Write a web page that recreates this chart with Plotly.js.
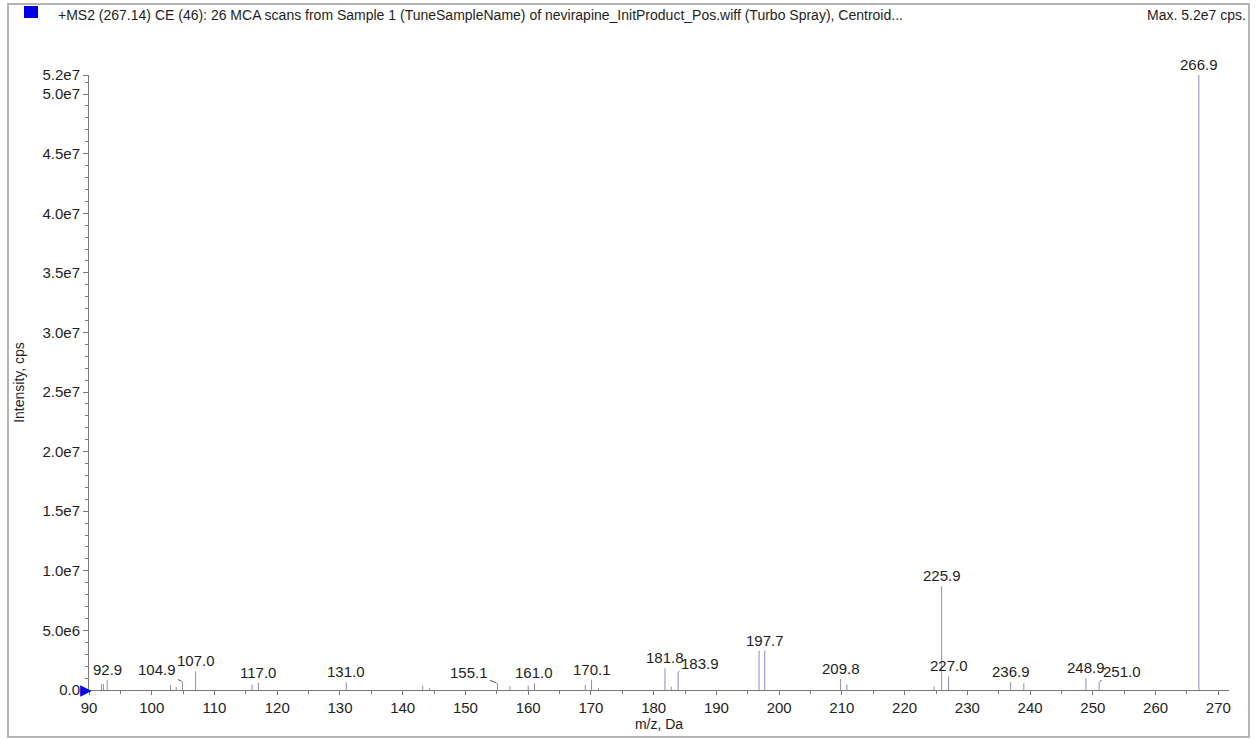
<!DOCTYPE html>
<html>
<head>
<meta charset="utf-8">
<script src="https://cdn.plot.ly/plotly-3.0.1.min.js"></script>
<style>
  html, body { margin: 0; padding: 0; background: #ffffff; }
  #wrap { position: relative; width: 1256px; height: 740px; }
  #frame { position: absolute; left: 7px; top: 3px; width: 1243px; height: 735px;
           box-sizing: border-box; border: 2px solid #b4b4b4; pointer-events: none; }
  #chart { position: absolute; left: 0; top: 0; width: 1256px; height: 740px; }
</style>
</head>
<body>
<div id="wrap">
  <div id="chart"></div>
  <div id="frame"></div>
</div>
<script>
// Centroided MS2 spectrum of m/z 267.14 (nevirapine product ions)
const mz = [92.0, 92.3, 92.9, 103.0, 103.9, 104.9, 107.0, 116.0, 117.0, 131.0,
            143.2, 144.3, 155.1, 157.1, 160.0, 161.0, 169.1, 170.1, 171.2,
            181.8, 182.8, 183.9, 196.8, 197.7, 209.8, 210.8, 224.7, 225.9,
            227.0, 236.9, 239.0, 248.9, 251.0, 266.9];
const intensity = [0.50e6, 0.50e6, 0.84e6, 0.42e6, 0.25e6, 0.70e6, 1.57e6, 0.45e6, 0.60e6, 0.63e6,
                   0.36e6, 0.17e6, 0.56e6, 0.31e6, 0.36e6, 0.56e6, 0.42e6, 0.87e6, 0.17e6,
                   1.82e6, 0.28e6, 1.54e6, 3.30e6, 3.30e6, 0.92e6, 0.45e6, 0.31e6, 8.70e6,
                   1.15e6, 0.65e6, 0.56e6, 0.98e6, 0.70e6, 5.16e7];

// peaks that carry an m/z label
const labelledMz = [92.9, 104.9, 107.0, 117.0, 131.0, 155.1, 161.0, 170.1, 181.8,
                    183.9, 197.7, 209.8, 225.9, 227.0, 236.9, 248.9, 251.0, 266.9];

const xTickStart = 90;
const xTickStep = 10;
const xRange = [90, 271.7];
const yMax = 5.16e7;
const yTickVals = [0, 5e6, 1e7, 1.5e7, 2e7, 2.5e7, 3e7, 3.5e7, 4e7, 4.5e7, 5e7, yMax];
const yTickText = ['0.0', '5.0e6', '1.0e7', '1.5e7', '2.0e7', '2.5e7', '3.0e7',
                   '3.5e7', '4.0e7', '4.5e7', '5.0e7', '5.2e7'];

const headerText = '+MS2 (267.14) CE (46): 26 MCA scans from Sample 1 (TuneSampleName) of nevirapine_InitProduct_Pos.wiff (Turbo Spray), Centroid...';
const maxText = 'Max. 5.2e7 cps.';

// Stick spectrum: one vertical segment per centroid, separated by gaps
const stickX = [], stickY = [];
mz.forEach((m, i) => {
  stickX.push(m, m, null);
  stickY.push(0, intensity[i], null);
});

const FONT = '"Liberation Sans", Arial, Helvetica, sans-serif';
const TEXT = '#1e1e1e';
const AXIS = '#7a7a7a';

// labels that sit beside their stick with a short leader line
const leader = {
  '104.9': { ax: -25, ay: -12 },
  '155.1': { ax: -28, ay: -11 },
  '183.9': { ax: 22, ay: -8 },
  '251.0': { ax: 23, ay: -10 }
};

const annotations = labelledMz.map(m => {
  const idx = mz.indexOf(m);
  const label = m.toFixed(1);
  const base = {
    x: m, y: intensity[idx], xref: 'x', yref: 'y', text: label,
    font: { family: FONT, size: 15, color: TEXT }
  };
  if (leader[label]) {
    return Object.assign(base, {
      showarrow: true, arrowhead: 0, arrowwidth: 1, arrowcolor: '#505050',
      ax: leader[label].ax, ay: leader[label].ay, standoff: 1
    });
  }
  return Object.assign(base, { showarrow: false, yanchor: 'bottom', yshift: 0 });
});

// baseline marker at the start of the m/z axis
annotations.push({
  x: xRange[0], y: 0, xref: 'x', yref: 'y', text: '\u25B6', showarrow: false,
  xanchor: 'right', yanchor: 'middle', xshift: 5,
  font: { family: 'DejaVu Sans', size: 15, color: '#0000e6' }
});

// maximum intensity note, top right
annotations.push({
  x: 1.0165, y: 1.0976, xref: 'paper', yref: 'paper', text: maxText,
  showarrow: false, xanchor: 'right', yanchor: 'middle',
  font: { family: FONT, size: 14, color: TEXT }
});

const layout = {
  width: 1256, height: 740,
  margin: { l: 89, r: 27, t: 75, b: 50 },
  paper_bgcolor: '#ffffff', plot_bgcolor: '#ffffff',
  showlegend: false,
  font: { family: FONT, size: 15, color: TEXT },
  title: {
    text: headerText, x: 58 / 1256, xref: 'container', xanchor: 'left',
    y: 1 - 15 / 740, yref: 'container', yanchor: 'middle',
    font: { family: FONT, size: 14, color: TEXT }
  },
  xaxis: {
    range: xRange, tick0: xTickStart, dtick: xTickStep, tickmode: 'linear',
    showline: true, linecolor: AXIS, linewidth: 1,
    ticks: 'outside', ticklen: 4, tickcolor: AXIS, tickwidth: 1,
    minor: { dtick: 5, tick0: xTickStart, ticks: 'outside', ticklen: 3, tickcolor: AXIS },
    showgrid: false, zeroline: false,
    tickfont: { family: FONT, size: 15, color: TEXT },
    title: { text: 'm/z, Da', standoff: 3, font: { family: FONT, size: 14, color: TEXT } }
  },
  yaxis: {
    range: [0, yMax], tickmode: 'array', tickvals: yTickVals, ticktext: yTickText,
    showline: true, linecolor: AXIS, linewidth: 1,
    ticks: 'outside', ticklen: 5, tickcolor: AXIS, tickwidth: 1,
    minor: { dtick: 1e6, tick0: 0, ticks: 'outside', ticklen: 3, tickcolor: AXIS },
    showgrid: false, zeroline: false,
    tickfont: { family: FONT, size: 15, color: TEXT },
    title: { text: 'Intensity, cps', standoff: 14, font: { family: FONT, size: 14, color: TEXT } }
  },
  shapes: [{
    type: 'rect', xref: 'paper', yref: 'paper',
    x0: -0.0570, x1: -0.0447, y0: 1.0927, y1: 1.1122,
    fillcolor: '#0000e6', line: { width: 0 }
  }],
  annotations: annotations
};

const traces = [{
  type: 'scatter', mode: 'lines', x: stickX, y: stickY,
  line: { color: '#8a8ac6', width: 1 }, hoverinfo: 'skip', connectgaps: false
}];

Plotly.newPlot('chart', traces, layout, { displayModeBar: false, staticPlot: true });
</script>
</body>
</html>
